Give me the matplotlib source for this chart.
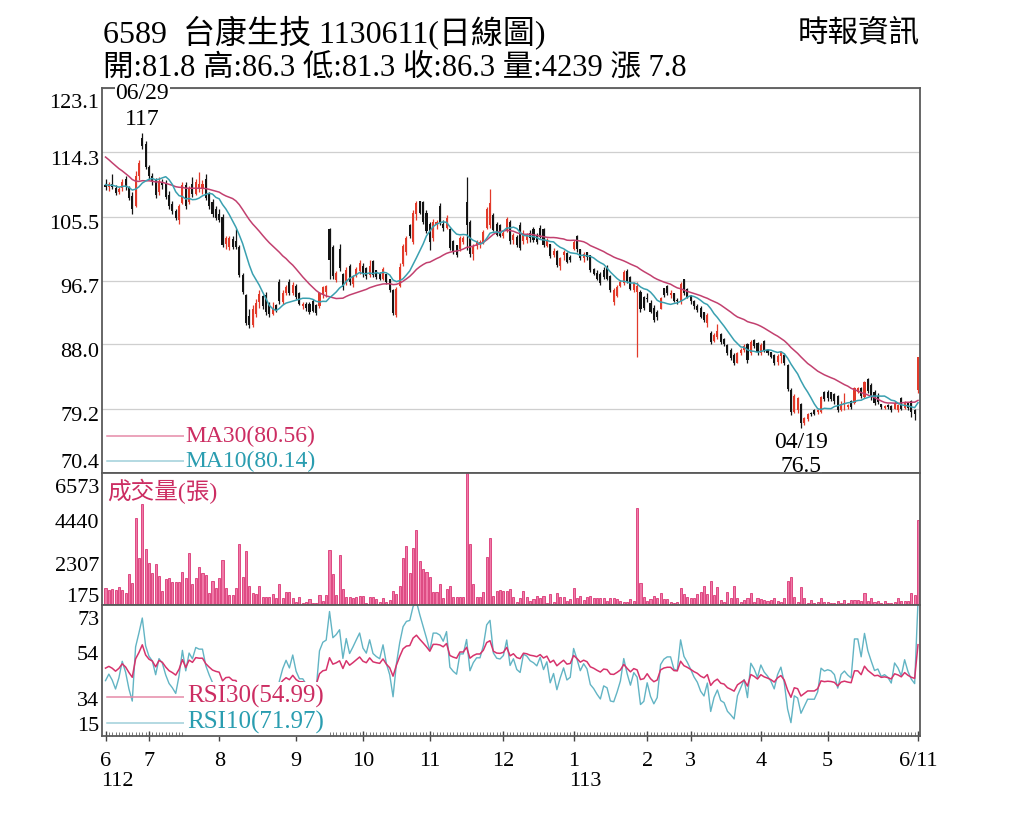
import numpy as np
import pandas as pd
import matplotlib
matplotlib.use("Agg")
import matplotlib.pyplot as plt
import matplotlib.transforms as mtrans

plt.rcParams['font.family'] = ['Liberation Serif', 'Noto Sans CJK TC', 'DejaVu Sans']

# ---------------- data ----------------
holidays = ['2023-06-22', '2023-06-23', '2023-09-29', '2023-10-09', '2023-10-10',
            '2024-01-01', '2024-02-06', '2024-02-07', '2024-02-08', '2024-02-09',
            '2024-02-12', '2024-02-13', '2024-02-14', '2024-02-28', '2024-04-04',
            '2024-04-05', '2024-05-01', '2024-06-10']

# closes before the plotted window (needed for the moving averages / RSI)
pre_close = [104.0, 105.5, 104.8, 106.2, 107.0, 106.3, 108.0, 109.5, 108.7, 110.2,
             111.5, 110.6, 112.8, 114.0, 113.2, 115.5, 116.8, 115.9, 117.5, 118.6,
             117.8, 119.5, 120.8, 119.9, 121.5, 122.6, 121.7, 123.0, 122.2, 121.6,
             122.5, 121.2, 122.0, 120.4, 121.3, 119.8, 120.6, 119.2, 119.8, 117.6,
             114.0, 112.1, 112.9, 110.8, 112.4, 111.2, 110.3, 111.6, 112.3, 111.0,
             110.2, 111.0, 109.3, 110.1, 110.6, 109.4, 108.9, 109.8, 110.3, 109.8]

open_ = [109.8, 109.5, 110.0, 109.4, 108.8, 109.4, 110.6, 109.5, 108.3, 107.0,
         111.0, 116.2, 115.5, 112.3, 111.0, 110.5, 108.8, 110.2, 110.0, 108.5,
         107.2, 106.3, 105.0, 107.4, 109.8, 107.5, 110.0, 108.6, 109.4, 109.4,
         110.6, 108.6, 107.5, 106.6, 105.8, 105.4, 101.8, 101.4, 102.4, 102.2,
         101.3, 97.5, 94.7, 91.9, 90.6, 92.2, 93.8, 94.6, 94.8, 93.6,
         92.2, 93.4, 96.5, 93.8, 95.0, 96.6, 95.0, 96.0, 95.1, 93.2,
         93.6, 93.6, 94.0, 93.4, 93.2, 94.7, 95.2, 103.8, 101.3, 96.8,
         101.0, 97.6, 96.4, 98.8, 96.3, 97.5, 98.0, 98.8, 98.5, 97.5,
         99.4, 98.2, 97.8, 97.0, 97.6, 96.9, 95.4, 92.0, 96.0, 99.0,
         100.6, 104.3, 102.0, 105.8, 107.6, 107.5, 106.0, 104.5, 102.5, 104.3,
         107.0, 104.5, 104.0, 103.8, 102.2, 101.6, 101.0, 102.0, 107.5, 104.8,
         100.4, 101.5, 101.8, 102.0, 104.0, 104.3, 105.7, 104.5, 104.3, 102.8,
         103.6, 104.8, 102.3, 102.7, 104.3, 102.2, 102.3, 103.3, 103.8, 103.0,
         104.0, 103.8, 101.5, 101.8, 100.2, 100.8, 98.8, 100.2, 100.5, 100.0,
         101.0, 102.8, 101.0, 99.8, 100.6, 100.2, 98.3, 97.8, 97.6, 98.2,
         98.4, 97.4, 93.8, 94.6, 96.0, 96.4, 98.0, 97.2, 95.4, 95.2,
         95.2, 94.5, 94.3, 93.7, 93.0, 92.5, 92.9, 95.7, 96.0, 94.8,
         95.0, 94.0, 93.8, 96.9, 95.6, 94.7, 94.0, 93.3, 93.0, 92.5,
         91.0, 89.6, 88.5, 89.0, 89.4, 88.8, 87.9, 87.3, 86.6, 85.5,
         86.8, 87.2, 88.1, 86.8, 88.6, 88.2, 86.8, 88.5, 87.3, 86.9,
         86.6, 85.6, 86.4, 86.6, 85.2, 81.8, 78.8, 79.0, 79.9, 77.2,
         77.8, 78.6, 79.0, 78.7, 78.8, 81.5, 81.5, 81.5, 81.2, 81.0,
         79.0, 79.8, 79.4, 80.3, 80.0, 81.5, 82.0, 80.8, 83.2, 82.5,
         81.5, 81.0, 79.9, 79.3, 79.7, 79.6, 79.2, 79.0, 80.6, 79.3,
         80.0, 80.2, 79.0, 81.8]

high = [110.6, 110.2, 111.3, 109.8, 109.6, 110.6, 111.1, 109.7, 108.8, 111.8,
        113.2, 117.0, 115.9, 112.6, 111.4, 110.8, 110.9, 110.6, 110.5, 109.0,
        107.7, 106.6, 107.2, 110.2, 110.2, 109.7, 110.9, 110.6, 111.6, 110.5,
        111.3, 108.9, 107.9, 106.9, 106.5, 105.8, 102.9, 102.9, 102.9, 103.8,
        101.6, 97.8, 94.9, 92.9, 93.4, 94.2, 95.4, 94.7, 95.2, 93.8,
        93.8, 93.6, 97.0, 95.4, 96.2, 97.0, 96.5, 96.3, 95.2, 93.8,
        93.8, 93.8, 94.2, 93.6, 95.2, 96.0, 96.2, 104.0, 101.6, 98.1,
        101.8, 97.8, 98.6, 99.0, 97.5, 98.6, 99.5, 99.1, 98.6, 99.5,
        99.5, 98.2, 97.9, 98.6, 97.7, 97.0, 95.6, 95.9, 99.1, 101.8,
        102.9, 104.5, 106.4, 107.7, 107.7, 107.7, 106.4, 104.8, 105.2, 105.0,
        107.3, 105.0, 105.7, 103.9, 102.3, 101.6, 102.9, 102.8, 110.9, 105.0,
        101.8, 102.3, 102.3, 103.6, 106.8, 109.3, 106.0, 104.8, 104.5, 103.6,
        105.5, 105.0, 103.3, 103.0, 104.8, 103.6, 103.2, 103.6, 104.1, 103.2,
        104.4, 103.9, 102.5, 101.8, 101.2, 100.9, 100.0, 100.9, 100.7, 100.2,
        102.3, 103.0, 101.0, 100.7, 100.7, 100.2, 98.4, 98.2, 97.9, 98.6,
        98.9, 97.5, 95.7, 96.1, 96.8, 98.2, 98.3, 97.3, 96.6, 96.6,
        95.5, 94.6, 95.0, 94.1, 93.4, 92.7, 94.5, 95.7, 96.1, 95.4,
        95.0, 94.3, 96.6, 97.0, 95.7, 94.8, 94.1, 93.6, 93.2, 92.5,
        92.3, 89.8, 89.5, 90.8, 89.5, 88.9, 88.0, 87.5, 86.8, 87.0,
        87.5, 88.0, 88.2, 88.6, 88.8, 88.4, 88.2, 88.6, 87.4, 87.0,
        86.7, 86.7, 87.1, 86.8, 85.3, 82.0, 81.2, 80.8, 80.0, 78.1,
        78.6, 78.8, 79.2, 79.2, 80.9, 81.6, 81.8, 81.5, 81.3, 81.1,
        80.2, 81.3, 79.9, 80.4, 82.2, 82.2, 82.2, 83.0, 83.4, 82.7,
        81.7, 81.3, 79.9, 79.7, 79.9, 79.7, 80.2, 79.9, 80.8, 80.2,
        80.0, 80.4, 79.1, 86.3]

low = [109.2, 109.0, 109.3, 108.4, 108.6, 109.0, 109.2, 107.8, 105.9, 106.8,
       110.5, 114.8, 112.0, 110.7, 109.8, 108.0, 108.5, 109.3, 107.9, 106.6,
       105.9, 105.0, 104.5, 107.2, 106.5, 107.2, 108.2, 108.4, 108.8, 108.6,
       107.8, 106.6, 105.5, 105.0, 104.8, 101.3, 101.0, 100.9, 101.0, 101.0,
       97.2, 94.9, 90.6, 90.2, 90.4, 91.7, 93.0, 92.9, 92.0, 91.7,
       92.0, 92.4, 93.5, 93.5, 94.7, 94.7, 94.8, 94.2, 93.4, 92.9,
       92.6, 92.2, 92.4, 92.0, 93.0, 94.4, 94.5, 97.0, 97.0, 96.6,
       98.0, 95.4, 96.1, 96.2, 95.8, 97.2, 97.7, 97.2, 97.0, 97.2,
       97.2, 97.0, 96.8, 96.8, 96.3, 95.2, 92.0, 91.8, 95.8, 98.8,
       100.2, 102.5, 101.8, 105.0, 105.8, 104.5, 103.2, 100.9, 102.2, 103.8,
       104.3, 103.5, 103.8, 100.9, 100.4, 99.9, 100.8, 101.8, 100.9, 100.0,
       99.5, 101.0, 101.2, 101.8, 103.8, 104.0, 103.5, 102.8, 102.7, 102.6,
       103.4, 101.8, 101.8, 101.4, 100.9, 101.8, 101.9, 102.0, 102.0, 101.8,
       102.5, 101.4, 101.4, 99.8, 100.0, 98.6, 98.2, 99.6, 99.1, 99.3,
       100.9, 100.7, 99.6, 99.3, 99.6, 97.9, 97.5, 96.8, 96.1, 97.0,
       96.8, 95.2, 93.4, 94.5, 95.8, 96.2, 96.4, 95.4, 95.2, 86.3,
       92.5, 92.7, 93.8, 92.3, 91.1, 91.3, 92.8, 94.5, 94.7, 94.3,
       93.8, 93.6, 93.6, 94.7, 94.3, 93.6, 92.9, 92.5, 91.6, 91.1,
       90.4, 88.1, 88.3, 88.8, 88.1, 87.8, 86.5, 85.9, 85.2, 85.4,
       86.6, 87.0, 85.4, 86.6, 87.5, 86.6, 86.6, 87.0, 86.5, 86.1,
       85.2, 85.2, 85.4, 85.2, 81.6, 78.4, 78.6, 78.6, 76.5, 77.0,
       77.5, 78.2, 78.3, 78.5, 78.6, 80.2, 80.3, 80.2, 79.9, 78.8,
       78.9, 79.0, 79.2, 79.2, 79.9, 81.3, 80.6, 80.6, 81.3, 80.4,
       79.7, 79.9, 79.2, 79.2, 79.2, 78.8, 79.2, 78.8, 79.0, 79.2,
       79.0, 78.1, 77.6, 81.3]

close = [109.6, 110.0, 109.5, 108.7, 109.3, 110.3, 109.5, 108.0, 106.6, 111.0,
         112.8, 115.2, 112.3, 111.0, 110.4, 108.5, 110.4, 109.8, 108.2, 106.9,
         106.2, 105.3, 106.9, 109.8, 107.0, 109.4, 108.6, 110.2, 110.0, 110.0,
         108.1, 106.9, 105.8, 105.3, 105.0, 101.6, 102.5, 102.6, 101.4, 101.3,
         97.5, 95.2, 91.0, 90.6, 92.8, 93.7, 94.9, 93.2, 92.4, 92.1,
         93.0, 92.6, 93.9, 95.0, 95.8, 95.0, 96.2, 94.5, 93.6, 93.6,
         93.0, 92.4, 92.6, 92.3, 95.0, 95.8, 96.0, 99.5, 97.4, 97.8,
         98.4, 95.8, 98.2, 96.6, 97.4, 98.3, 99.2, 97.8, 97.3, 98.8,
         97.5, 97.2, 97.0, 98.3, 96.6, 95.4, 92.3, 95.6, 98.6, 101.5,
         102.6, 102.8, 106.0, 107.3, 106.0, 104.8, 103.5, 102.0, 104.8, 104.8,
         104.6, 104.0, 105.3, 101.2, 100.6, 100.2, 102.5, 102.5, 104.3, 100.4,
         101.4, 102.0, 102.0, 103.4, 106.5, 107.3, 103.7, 103.0, 102.9, 103.3,
         105.2, 102.2, 103.0, 101.6, 101.2, 103.2, 103.0, 102.5, 102.3, 102.0,
         102.7, 101.6, 102.2, 100.1, 100.8, 98.9, 99.8, 100.6, 99.3, 99.5,
         102.0, 101.0, 99.8, 100.4, 99.9, 98.2, 97.7, 97.0, 96.4, 97.2,
         97.0, 95.5, 95.4, 95.9, 96.5, 97.9, 96.7, 95.6, 96.4, 96.0,
         92.8, 93.0, 94.2, 92.5, 91.4, 91.8, 94.3, 94.8, 95.0, 95.0,
         94.0, 93.9, 96.3, 95.0, 94.5, 93.9, 93.2, 92.7, 91.8, 91.3,
         92.0, 88.4, 89.3, 89.8, 88.4, 88.1, 86.8, 86.2, 85.5, 86.8,
         87.3, 87.8, 85.8, 88.4, 87.8, 86.9, 87.9, 87.2, 86.8, 86.3,
         85.5, 86.4, 86.9, 85.5, 81.9, 78.8, 81.0, 80.6, 77.3, 77.9,
         78.5, 78.5, 78.5, 79.0, 80.8, 80.5, 80.6, 80.5, 80.2, 79.0,
         79.8, 80.0, 79.7, 79.5, 82.0, 82.0, 80.9, 82.8, 81.6, 80.8,
         80.0, 80.1, 79.5, 79.6, 79.4, 79.0, 80.0, 79.7, 79.2, 80.0,
         79.3, 78.8, 78.5, 86.3]

volume = [830, 750, 800, 750, 910, 750, 580, 1540, 1080, 4320,
          2320, 5010, 2790, 2110, 1610, 2025, 1440, 710, 1280, 1360,
          1160, 1130, 1130, 1630, 1360, 2610, 1050, 1360, 1910, 1580,
          1480, 580, 1200, 860, 1330, 2240, 830, 500, 500, 830,
          3040, 1380, 2710, 960, 610, 550, 960, 415, 415, 415,
          550, 365, 1050, 365, 630, 630, 330, 165, 380, 80,
          165, 280, 80, 80, 515, 200, 515, 2740, 1530, 500,
          2490, 800, 380, 415, 365, 415, 450, 450, 80, 415,
          415, 280, 165, 350, 165, 250, 710, 530, 960, 2320,
          2950, 1580, 2860, 3735, 2190, 1790, 1660, 1380, 630, 630,
          1030, 330, 800, 960, 380, 380, 380, 415, 6573, 3040,
          1030, 415, 415, 630, 2410, 3320, 465, 710, 750, 700,
          710, 800, 415, 165, 365, 700, 415, 215, 300, 465,
          330, 465, 80, 550, 165, 615, 415, 380, 215, 300,
          865, 330, 450, 250, 380, 450, 365, 365, 330, 330,
          200, 330, 330, 300, 200, 165, 130, 300, 215, 4815,
          1080, 380, 200, 300, 450, 365, 580, 300, 300, 165,
          80, 165, 830, 550, 415, 365, 365, 550, 665, 960,
          550, 1210, 500, 880, 250, 165, 665, 365, 945, 330,
          165, 250, 365, 580, 165, 330, 300, 250, 215, 250,
          330, 200, 130, 330, 1210, 1410, 415, 165, 910, 330,
          80, 250, 80, 165, 365, 165, 130, 80, 80, 200,
          80, 250, 80, 250, 250, 250, 200, 615, 200, 365,
          165, 200, 80, 200, 80, 80, 165, 365, 200, 200,
          215, 580, 500, 4239]

price_ticks = [70.4, 79.2, 88.0, 96.7, 105.5, 114.3, 123.1]
vol_ticks = [175, 2307, 4440, 6573]
rsi_ticks = [15, 34, 54, 73]
month_labels = ['6', '7', '8', '9', '10', '11', '12', '1', '2', '3', '4', '5', '6/11']
year_labels = ['112', '113']

title = '6589  台康生技 1130611(日線圖)'
quote = '開:81.8 高:86.3 低:81.3 收:86.3 量:4239 漲 7.8'
source = '時報資訊'
ma_labels = ['MA30(80.56)', 'MA10(80.14)']
rsi_labels = ['RSI30(54.99)', 'RSI10(71.97)']

# ---------------- derived ----------------
dates = pd.bdate_range('2023-06-12', '2024-06-11')
dates = dates[~dates.isin(pd.to_datetime(holidays))]
n = min(len(dates), len(close))
dates = dates[:n]
o = np.array(open_[:n]); h = np.array(high[:n]); l = np.array(low[:n]); c = np.array(close[:n])
v = np.array(volume[:n])
x = np.arange(n)

full = pd.Series(pre_close + list(c))
npre = len(pre_close)
ma10 = full.rolling(10).mean().values[npre:]
ma30 = full.rolling(30).mean().values[npre:]

def rsi(series, period):
    d = series.diff()
    g = d.clip(lower=0)
    lo = (-d).clip(lower=0)
    ag = g.ewm(alpha=1.0 / period, adjust=True, min_periods=1).mean()
    al = lo.ewm(alpha=1.0 / period, adjust=True, min_periods=1).mean()
    return (100 * ag / (ag + al)).values

rsi10 = rsi(full, 10)[npre:]
rsi30 = rsi(full, 30)[npre:]

# month tick positions
mstarts = [0] + [i for i in range(1, n) if dates[i].month != dates[i - 1].month]
mstarts = [i for i in mstarts if i < n - 10] + [n - 1]
mstarts = mstarts[:len(month_labels)]
jan_idx = [i for i in mstarts if dates[i].month == 1][0]

# ---------------- plot ----------------
fig = plt.figure(figsize=(10.24, 8.19), dpi=100)
L, W = 102 / 1024, 818 / 1024
ax1 = fig.add_axes([L, 1 - 473 / 819, W, 385 / 819])
ax2 = fig.add_axes([L, 1 - 605 / 819, W, 132 / 819], sharex=ax1)
ax3 = fig.add_axes([L, 1 - 736 / 819, W, 131 / 819], sharex=ax1)

UP, DN = '#e23a2a', '#141414'
cols = np.where(c >= o, UP, DN)
ax1.vlines(x, l, h, colors=cols, linewidth=0.9, zorder=2)
ax1.bar(x, np.maximum(np.abs(c - o), 0.12), bottom=np.minimum(o, c), width=0.62,
        color=cols, linewidth=0, zorder=2)
ax1.plot(x, ma30, color='#c2406f', lw=1.1, zorder=2.1)
ax1.plot(x, ma10, color='#3aa0b0', lw=1.1, zorder=2.1)
ax1.set_ylim(70.4, 123.1)
ax1.set_yticks(price_ticks)
ax1.set_yticklabels([f'{t:.1f}' for t in price_ticks])
ax1.grid(axis='y', color='#cfcfcf', lw=0.9, zorder=0)

ax2.bar(x, v, width=0.62, color='#f07aa8', edgecolor='#d41c62', linewidth=0.5, zorder=2)
ax2.set_ylim(0, 6573)
ax2.set_yticks(vol_ticks)
ax2.set_yticklabels([str(t) for t in vol_ticks])

ax3.plot(x, rsi30, color='#d6336c', lw=1.1, zorder=1.9)
ax3.plot(x, rsi10, color='#62b4c4', lw=1.0, zorder=1.8)
ax3.set_ylim(15, 73)
ax3.set_yticks(rsi_ticks)
ax3.set_yticklabels([str(t) for t in rsi_ticks])

ax1.set_xlim(-1.05, n - 1 + 0.6)
for ax in (ax1, ax2, ax3):
    for s in ax.spines.values():
        s.set_color('#5a5a5a'); s.set_linewidth(1.3)
    ax.tick_params(axis='y', length=0, pad=2, labelsize=16, labelcolor='black')
    ax.set_facecolor('white')
ax1.tick_params(axis='x', which='both', bottom=False, labelbottom=False)
ax2.tick_params(axis='x', which='both', bottom=False, labelbottom=False)

down = mtrans.ScaledTranslation(0, -4 / 72, fig.dpi_scale_trans)
for ax, shift_first in ((ax1, False), (ax2, True), (ax3, False)):
    labs = ax.get_yticklabels()
    labs[0].set_va('bottom')
    labs[-1].set_va('top')
    for k, lab in enumerate(labs):
        if k == 0 and not shift_first:
            continue
        lab.set_transform(lab.get_transform() + down)

ax3.set_xticks(mstarts)
ax3.set_xticklabels(month_labels)
ax3.set_xticks(x, minor=True)
ax3.tick_params(axis='x', which='major', direction='inout', length=7, width=1,
                labelsize=16, pad=8, colors='#444444', labelcolor='black')
ax3.tick_params(axis='x', which='minor', direction='in', length=3, width=0.6, colors='#666666')

blend3 = mtrans.blended_transform_factory(ax3.transData, ax3.transAxes)
for idx, lab in zip([mstarts[0], jan_idx], year_labels):
    ax3.text(idx - 1.2, -0.345, lab, transform=blend3, ha='left', va='center',
             fontsize=16, clip_on=False)

# legends with white boxes
MA30_LEG, MA10_LEG = '#e58aa8', '#9fd0da'
ax1.plot([0.006, 0.102], [0.096, 0.096], transform=ax1.transAxes, color=MA30_LEG, lw=1.1, zorder=2.2)
ax1.plot([0.006, 0.102], [0.031, 0.031], transform=ax1.transAxes, color=MA10_LEG, lw=1.1, zorder=2.2)
ax1.text(0.102, 0.096, ma_labels[0], transform=ax1.transAxes, color='#cc2d62', fontsize=17,
         va='center', ha='left', zorder=2.3, bbox=dict(facecolor='white', edgecolor='none', pad=1))
ax1.text(0.102, 0.031, ma_labels[1], transform=ax1.transAxes, color='#2a9db0', fontsize=17,
         va='center', ha='left', zorder=2.3, bbox=dict(facecolor='white', edgecolor='none', pad=1))

ax3.plot([0.006, 0.104], [0.30, 0.30], transform=ax3.transAxes, color=MA30_LEG, lw=1.1, zorder=2.0)
ax3.plot([0.006, 0.104], [0.10, 0.10], transform=ax3.transAxes, color=MA10_LEG, lw=1.1, zorder=2.0)
ax3.text(0.104, 0.30, rsi_labels[0], transform=ax3.transAxes, color='#cc2d62', fontsize=18,
         va='center', ha='left', zorder=2.1, bbox=dict(facecolor='white', edgecolor='none', pad=2))
ax3.text(0.104, 0.10, rsi_labels[1], transform=ax3.transAxes, color='#2a9db0', fontsize=18,
         va='center', ha='left', zorder=2.1, bbox=dict(facecolor='white', edgecolor='none', pad=2))

ax2.text(0.006, 0.86, '成交量(張)', transform=ax2.transAxes, color='#cc2d62', fontsize=17,
         va='center', ha='left', zorder=5)

# high / low annotations
blend1 = mtrans.blended_transform_factory(ax1.transData, ax1.transAxes)
i_hi = int(np.argmax(h)); i_lo = int(np.argmin(l))
ax1.text(i_hi, 0.985, dates[i_hi].strftime('%m/%d'), transform=blend1, ha='center', va='center',
         fontsize=17, zorder=6, clip_on=False,
         bbox=dict(facecolor='white', edgecolor='none', pad=0.5))
ax1.text(i_hi, 0.917, f'{h[i_hi]:g}', transform=blend1, ha='center', va='center', fontsize=17, zorder=6)
ax1.text(i_lo, 0.079, dates[i_lo].strftime('%m/%d'), transform=blend1, ha='center', va='center',
         fontsize=17, zorder=6)
ax1.text(i_lo, 0.016, f'{l[i_lo]:g}', transform=blend1, ha='center', va='center', fontsize=17,
         zorder=6, clip_on=False, bbox=dict(facecolor='white', edgecolor='none', pad=0.5))

# header
fig.text(103 / 1024, 1 - 32 / 819, title, fontsize=23, ha='left', va='center')
fig.text(103 / 1024, 1 - 68 / 819, quote, fontsize=22, ha='left', va='center')
fig.text(920 / 1024, 1 - 35 / 819, source, fontsize=22, ha='right', va='center')

fig.savefig('out.png', dpi=100, facecolor='white')
